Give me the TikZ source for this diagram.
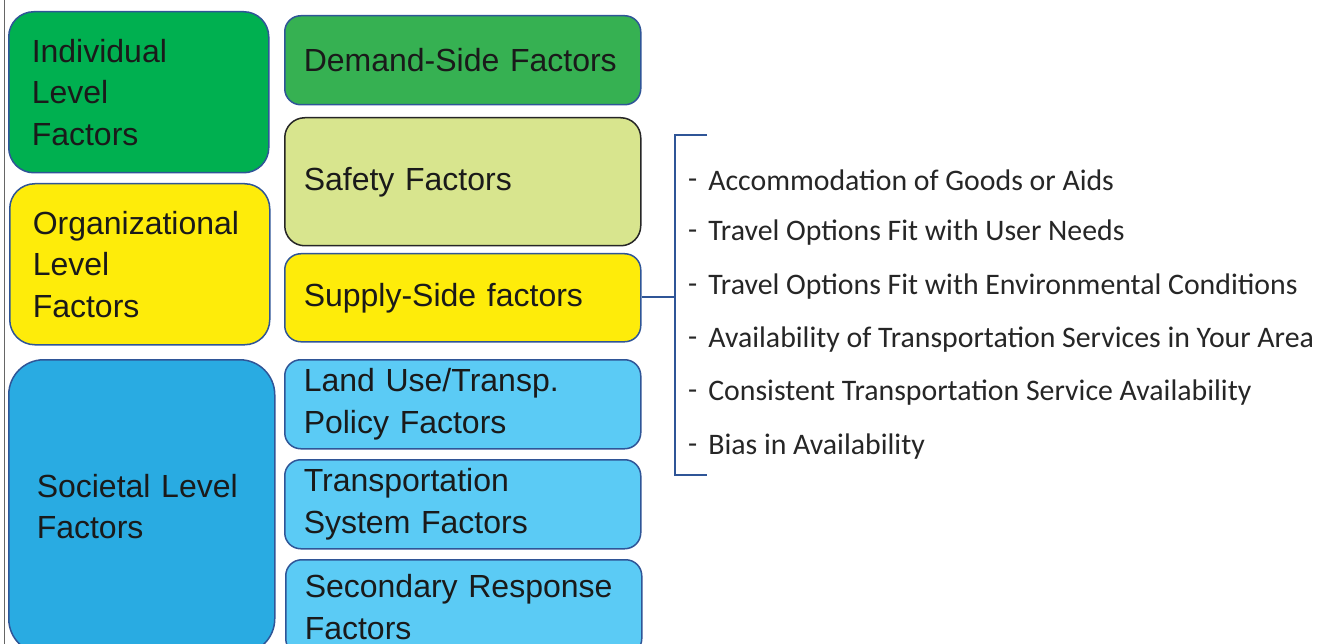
\documentclass[tikz,border=0pt]{standalone}
\usepackage{fontspec}
\setmainfont{Liberation Sans}
\newfontfamily\bulletfont{Carlito}
\usetikzlibrary{backgrounds,calc}
\definecolor{bordc}{HTML}{2F5597}
\definecolor{indc}{HTML}{00B050}
\definecolor{demc}{HTML}{36B152}
\definecolor{safc}{HTML}{D8E58E}
\definecolor{yelc}{HTML}{FEEC0A}
\definecolor{socc}{HTML}{29ABE2}
\definecolor{lblc}{HTML}{5BCBF5}
\definecolor{txtc}{HTML}{1A1A1A}
\definecolor{orc}{HTML}{F9B62B}
\definecolor{bulc}{HTML}{262626}
\newcommand{\bdash}{\raisebox{1.5pt}{-}\hspace{11pt}}
\tikzset{
  fbox/.style={draw=bordc, line width=1.5, anchor=north west, align=left,
    inner ysep=0, text=txtc, font=\fontsize{32}{41.5}\selectfont},
  bigbox/.style={fbox, rounded corners=25, inner xsep=23},
  smallbox/.style={fbox, rounded corners=16, inner xsep=19},
  bullet/.style={anchor=west, text=bulc, inner sep=0, font=\bulletfont\fontsize{29.8}{34}\selectfont},
  conn/.style={line width=1.2},
}
\begin{document}
\begin{tikzpicture}[x=1pt,y=-1pt]
\path[use as bounding box, clip] (0,0) rectangle (1325,644);
\fill[white] (0,0) rectangle (1325,644);
\draw[gray!80!black, line width=1] (4,-2) -- (4,650);
% left column
\node[bigbox, fill=indc, text width=214, minimum height=161] (ind) at (8,11) {Individual\\Level\\Factors};
\node[bigbox, fill=yelc, text width=214, minimum height=161] (org) at (9,183) {Organizational\\Level\\Factors};
\node[bigbox, fill=socc, rounded corners=35, inner xsep=28, text width=210, minimum height=294] (soc) at (8,359) {Societal Level\\Factors};
% middle column
\node[smallbox, fill=demc, text width=318, minimum height=89] (dem) at (284,15) {Demand-Side Factors};
\node[smallbox, draw=bulc, rounded corners=20, fill=safc, text width=318, minimum height=128] (saf) at (284,117) {Safety Factors};
\node[smallbox, fill=yelc, text width=318, minimum height=88] (sup) at (284,253) {Supply-Side factors};
\node[smallbox, fill=lblc, text width=318, minimum height=89] (land) at (284,359) {Land Use/Transp.\\Policy Factors};
\node[smallbox, fill=lblc, text width=318, minimum height=89] (tra) at (284,459) {Transportation\\System Factors};
\node[smallbox, fill=lblc, text width=318, minimum height=95] (sec) at (285,559) {Secondary Response\\Factors};
% connectors
\begin{scope}[on background layer]
\draw[conn, indc] (ind.east |- 0,68) -- (dem.west |- 0,68);
\draw[conn, indc] (saf.west) -- ($(saf.west)+(-40,-40)$);
\draw[conn, orc] (saf.west) -- ($(saf.west)+(-40,40)$);
\draw[conn, orc] (org.east |- sup.west) -- (sup.west);
\draw[conn, socc] (soc.east |- land.west) -- (land.west);
\draw[conn, socc] (soc.east |- tra.west) -- (tra.west);
\end{scope}
% bracket
\coordinate (bm) at (675,297);
\coordinate (bt) at (675,135);
\coordinate (bb) at (675,475);
\coordinate (btr) at (707,135);
\coordinate (bbr) at (707,475);
\draw[conn, bordc] (sup.east |- bm) -- (bm);
\draw[conn, bordc] (btr) -- (bt) -- (bb) -- (bbr);
% bullets
\node[bullet] (b1) at (688,180) {\bdash Accommodation of Goods or Aids};
\node[bullet] (b2) at (688,233) {\bdash Travel Options Fit with User Needs};
\node[bullet] (b3) at (688,287) {\bdash Travel Options Fit with Environmental Conditions};
\node[bullet] (b4) at (688,340) {\bdash Availability of Transportation Services in Your Area};
\node[bullet] (b5) at (688,393) {\bdash Consistent Transportation Service Availability};
\node[bullet] (b6) at (688,447) {\bdash Bias in Availability};
\end{tikzpicture}
\end{document}
